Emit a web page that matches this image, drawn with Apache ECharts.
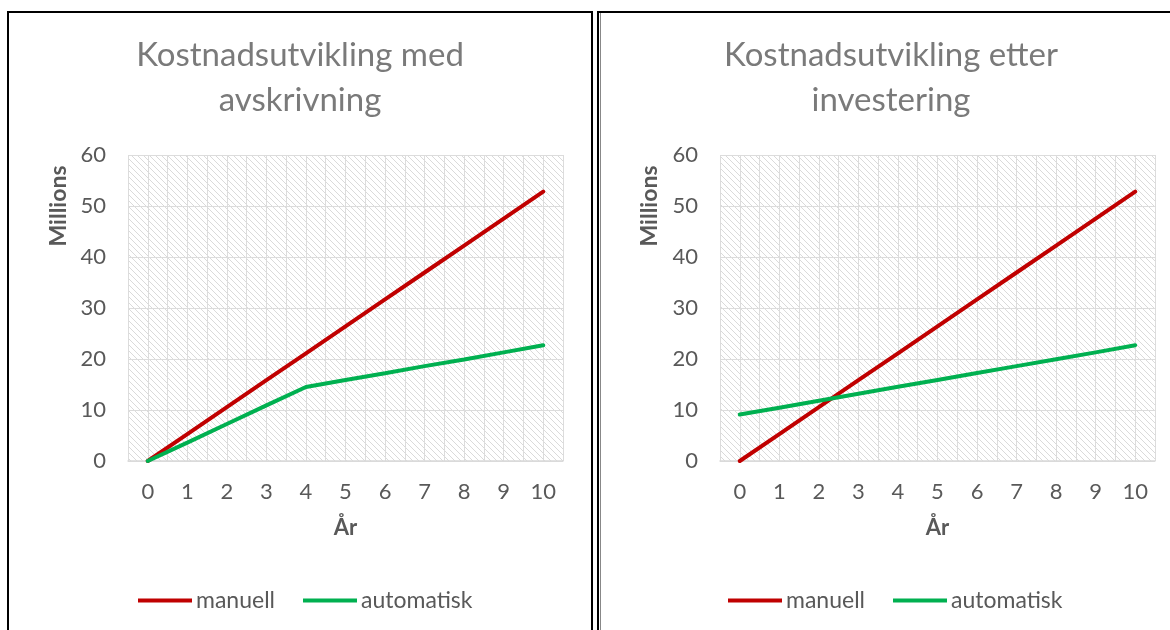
<!DOCTYPE html>
<html>
<head>
<meta charset="utf-8">
<script src="https://cdn.jsdelivr.net/npm/echarts@6/dist/echarts.min.js"></script>
<style>
html,body{margin:0;padding:0;background:#fff;}
#c{width:1170px;height:630px;}
</style>
</head>
<body>
<div id="c"></div>
<script>
// ---- data ----
const years = [0, 1, 2, 3, 4, 5, 6, 7, 8, 9, 10];
const leftManuell    = [0, 5.28, 10.56, 15.84, 21.12, 26.4, 31.68, 36.96, 42.24, 47.52, 52.8];
const leftAutomatisk = [0, 3.6, 7.25, 10.9, 14.5, 15.9, 17.2, 18.6, 19.9, 21.3, 22.7];
const rightManuell    = [0, 5.28, 10.56, 15.84, 21.12, 26.4, 31.68, 36.96, 42.24, 47.52, 52.8];
const rightAutomatisk = [9.1, 10.45, 11.8, 13.2, 14.55, 15.9, 17.25, 18.6, 19.95, 21.3, 22.7];
const yTicks = [0, 10, 20, 30, 40, 50, 60];
const titles = ['Kostnadsutvikling med\navskrivning', 'Kostnadsutvikling etter\ninvestering'];
const seriesNames = ['manuell', 'automatisk'];
const colors = ['#C00000', '#00B050'];

// hatch pattern
const pc = document.createElement('canvas');
pc.width = 6; pc.height = 6;
const g = pc.getContext('2d');
g.fillStyle = '#ffffff'; g.fillRect(0, 0, 6, 6);
g.strokeStyle = '#dadada'; g.lineWidth = 1;
g.beginPath();
g.moveTo(-1, -1); g.lineTo(7, 7);
g.moveTo(-4, 2); g.lineTo(2, 8);
g.moveTo(2, -4); g.lineTo(8, 2);
g.stroke();

const FONT = 'Lato';
const txt = '#595959';

const gridsLeft = [128, 720];
function pairs(arr){ return years.map((y, i) => [y, arr[i]]); }

const option = {
  animation: false,
  textStyle: { fontFamily: FONT },
  title: titles.map((t, i) => ({
    text: t,
    left: i === 0 ? 300 : 891,
    top: 33,
    textAlign: 'center',
    padding: 0,
    textStyle: { fontFamily: FONT, fontSize: 33, fontWeight: 'normal', color: '#7a7a7a', lineHeight: 45 }
  })),
  legend: [0, 1].map(i => ({
    left: i === 0 ? 138 : 728,
    top: 589,
    icon: 'rect',
    itemWidth: 54,
    itemHeight: 4,
    itemGap: 28,
    padding: 0,
    textStyle: { fontFamily: FONT, fontSize: 23, color: txt, padding: [0, 0, 0, -1] },
    data: seriesNames
  })),
  grid: gridsLeft.map(l => ({
    left: l, top: 155, width: 435, height: 306,
    show: true, borderWidth: 0,
    backgroundColor: { image: pc, repeat: 'repeat' }
  })),
  xAxis: [0, 1].map(i => ({
    gridIndex: i,
    type: 'value',
    min: -0.5, max: 10.5, interval: 0.5,
    name: 'År',
    nameLocation: 'middle',
    nameGap: 56,
    nameTextStyle: { fontFamily: FONT, fontSize: 22, fontWeight: 'bold', color: txt },
    axisLine: { show: true, lineStyle: { color: '#d9d9d9', width: 1.5 } },
    axisTick: { show: false },
    splitLine: { show: true, lineStyle: { color: '#dcdcdc', width: 1 } },
    axisLabel: {
      fontFamily: FONT, fontSize: 22, color: txt, margin: 20,
      showMinLabel: true, showMaxLabel: true,
      formatter: v => years.includes(v) ? String(v) : ''
    }
  })),
  yAxis: [0, 1].map(i => ({
    gridIndex: i,
    type: 'value',
    min: yTicks[0], max: yTicks[yTicks.length - 1], interval: 10,
    axisLine: { show: false },
    axisTick: { show: false },
    splitLine: { show: true, lineStyle: { color: '#dcdcdc', width: 1 } },
    axisLabel: { fontFamily: FONT, fontSize: 22, color: txt, margin: 22 }
  })),
  series: [
    { name: 'manuell', type: 'line', xAxisIndex: 0, yAxisIndex: 0, data: pairs(leftManuell) },
    { name: 'automatisk', type: 'line', xAxisIndex: 0, yAxisIndex: 0, data: pairs(leftAutomatisk) },
    { name: 'manuell', type: 'line', xAxisIndex: 1, yAxisIndex: 1, data: pairs(rightManuell) },
    { name: 'automatisk', type: 'line', xAxisIndex: 1, yAxisIndex: 1, data: pairs(rightAutomatisk) }
  ].map((s, k) => Object.assign(s, {
    symbol: 'none',
    color: colors[k % 2],
    lineStyle: { color: colors[k % 2], width: 4, cap: 'round' },
    z: 3
  })),
  graphic: [
    { type: 'text', x: 59, y: 206, rotation: Math.PI / 2, style: { text: 'Millions', textAlign: 'center', textVerticalAlign: 'middle', font: 'bold 23px ' + FONT, fill: txt } },
    { type: 'text', x: 650, y: 206, rotation: Math.PI / 2, style: { text: 'Millions', textAlign: 'center', textVerticalAlign: 'middle', font: 'bold 23px ' + FONT, fill: txt } },
    { type: 'rect', shape: { x: 8, y: 12, width: 584, height: 640 }, style: { fill: 'none', stroke: '#000', lineWidth: 2 } },
    { type: 'line', shape: { x1: 598, y1: 11, x2: 598, y2: 640 }, style: { stroke: '#000', lineWidth: 2 } },
    { type: 'line', shape: { x1: 600.5, y1: 13, x2: 600.5, y2: 640 }, style: { stroke: '#888', lineWidth: 1 } },
    { type: 'line', shape: { x1: 597, y1: 12, x2: 1175, y2: 12 }, style: { stroke: '#000', lineWidth: 2 } }
  ]
};
const chart = echarts.init(document.getElementById('c'), null, { renderer: 'canvas' });
chart.setOption(option);
</script>
</body>
</html>
